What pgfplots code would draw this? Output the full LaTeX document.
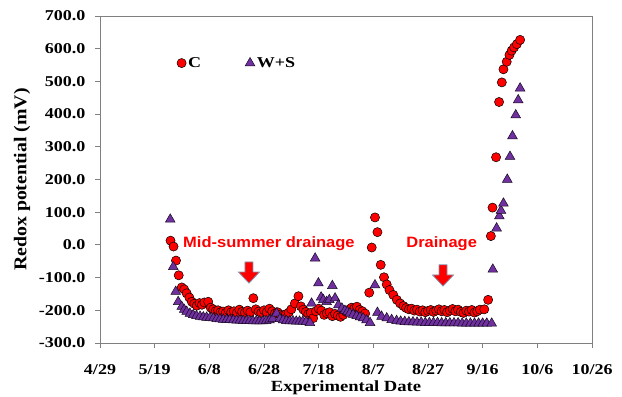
\documentclass[border=0pt]{standalone}
\usepackage{pgfplots}
\pgfplotsset{compat=1.18}
\usepackage{fontspec}
\setmainfont{Liberation Serif}[FakeStretch=1.2]
\newfontfamily\annotfont{Liberation Sans}[FakeStretch=1.1]
\newfontfamily\ylabfont{Liberation Serif}[FakeStretch=1.1]
\definecolor{cred}{HTML}{FF0000}
\definecolor{cpurple}{HTML}{7030A0}
\definecolor{arrowedge}{HTML}{8497B0}
\definecolor{axgray}{HTML}{808080}

\pgfplotstableread{
x y
25.8 13
26.9 -5
27.8 -48
28.8 -93
29.9 -130
30.8 -136
31.7 -148
32.7 -161
33.6 -174
34.5 -180
35.4 -186
36.4 -178
37.3 -183
38.2 -176
39.6 -174
40.5 -192
41.4 -197
42.3 -203
43.2 -200
44.1 -206
45 -204
46 -208
47 -200
48 -206
49 -203
50 -209
51 -198
52 -205
53 -207
54 -201
55 -206
56.1 -163
57 -197
58 -204
59 -208
60 -200
61 -206
62 -195
63 -203
64 -210
65 -206
66 -213
67 -216
68 -212
69 -207
70 -197
71.3 -179
72.6 -157
73.5 -188
74.4 -198
75.3 -205
76.2 -212
77.1 -208
78 -224
79 -203
80 -195
81 -201
82 -214
83 -209
84 -206
85 -218
86 -211
87 -216
88 -220
89 -214
90 -204
91 -198
92 -192
93 -195
94 -189
95 -199
96 -203
97 -210
98.5 -146
99.4 -8
100.6 84
101.5 39
102.7 -61
103.9 -99
104.9 -121
105.9 -138
107.3 -153
108.6 -168
109.8 -179
111 -187
112 -193
113 -197
114 -195
115 -201
116 -198
117 -204
118 -200
119 -206
120 -202
121 -199
122 -205
123 -201
124 -197
125 -203
126 -199
127 -206
128 -201
129 -196
130 -203
131 -198
132 -205
133 -208
134 -201
135 -204
136 -199
137 -207
138 -203
139 -198
140.6 -197
142 -168
143 27
143.6 114
144.9 268
146 437
147 497
147.6 537
148.8 560
149.8 581
150.6 594
151.5 604
152.5 614
153.7 627
}\dataC

\pgfplotstableread{
x y
25.7 78
26.8 -67
27.7 -143
28.6 -174
29.9 -189
30.8 -198
31.7 -204
32.9 -210
34.1 -214
35.3 -217
36.6 -219
37.8 -221
39 -222
40.2 -223
41.5 -224
42.7 -226
43.9 -227
45.1 -228
46.3 -229
47.5 -229
48.8 -230
50 -231
51.2 -231
52.4 -232
53.6 -232
54.8 -232
56 -233
57.2 -233
58.4 -233
59.6 -233
60.8 -232
62 -230
63.2 -226
64.6 -209
65.8 -226
67 -230
68.2 -232
69.4 -233
70.6 -233
71.8 -234
73 -234
74.2 -234
75.4 -235
76.8 -238
77.4 -179
78.7 -41
79.9 -117
80.9 -160
81.7 -168
82.9 -174
83.9 -168
85 -125
86 -163
87.2 -184
88.5 -194
89.6 -201
90.5 -205
91.4 -209
92.6 -213
93.9 -217
95.1 -221
96.3 -224
97.5 -230
98.8 -238
100.6 -123
101.5 -207
103 -219
104.9 -224
106.7 -229
108.5 -232
110 -234
111.5 -235
113 -236
114.5 -236
116 -237
117.5 -237
119 -238
120.5 -238
122 -238
123.5 -238
125 -239
126.5 -239
128 -239
129.5 -239
131 -239
132.5 -240
134 -240
135.5 -240
137 -240
138.5 -240
140 -240
141.5 -240
143.3 -240
143.7 -75
145.1 51
146.1 88
146.7 105
147.6 127
149 200
150 270
150.9 333
152.1 397
153 443
153.7 479
}\dataWS

\begin{document}
\begin{tikzpicture}
\begin{axis}[name=ax, scale only axis, width=492pt, height=327pt,
  xmin=0, xmax=180, ymin=-300, ymax=700,
  xtick={0,20,...,180},
  xticklabels={4/29,5/19,6/8,6/28,7/18,8/7,8/27,9/16,10/6,10/26},
  ytick={-300,-200,...,700},
  axis line style={axgray, line width=0.9pt},
  tick style={axgray, line width=0.9pt},
  tick align=outside, major tick length=5pt,
  xtick pos=bottom, ytick pos=left,
  /pgf/number format/.cd, fixed, fixed zerofill, precision=1, assume math mode=true,
  /pgfplots/.cd,
  tick label style={font=\bfseries\fontsize{15}{16}\selectfont, black},
  xticklabel style={yshift=-13pt},
  yticklabel style={xshift=-6pt},
  xlabel={Experimental Date},
  ylabel={Redox potential (mV)},
  xlabel style={font=\bfseries\fontsize{15.5}{17}\selectfont, yshift=1pt},
  ylabel style={font=\ylabfont\bfseries\fontsize{18}{19}\selectfont, yshift=2pt},
  legend style={at={(0.15,0.856)}, anchor=west, draw=none, fill=none,
    font=\bfseries\fontsize{15}{17}\selectfont, legend columns=2,
    /tikz/every even column/.append style={column sep=42pt}},
  legend cell align=left,
  clip=false,
]
\addplot[only marks, mark=*, mark size=4.6pt, mark options={fill=cred, draw=black, line width=0.5pt}] table[x=x,y=y] {\dataC};
\addlegendentry{C}
\addplot[only marks, mark=triangle*, mark size=5.6pt, mark options={fill=cpurple, draw=black!80!cpurple, line width=0.5pt}] table[x=x,y=y] {\dataWS};
\addlegendentry{W+S}

\node[font=\annotfont\bfseries\fontsize{15}{17}\selectfont, text=cred] at (axis cs:61.8,3) {Mid-summer drainage};
\node[font=\annotfont\bfseries\fontsize{15}{17}\selectfont, text=cred] at (axis cs:125,3) {Drainage};

\draw[fill=cred, draw=arrowedge, line width=0.8pt, line join=miter]
  ([xshift=-4pt]axis cs:54.5,-52) -- ([xshift=4pt]axis cs:54.5,-52) -- ([xshift=4pt]axis cs:54.5,-83)
  -- ([xshift=10.5pt]axis cs:54.5,-83) -- (axis cs:54.5,-117) -- ([xshift=-10.5pt]axis cs:54.5,-83)
  -- ([xshift=-4pt]axis cs:54.5,-83) -- cycle;
\draw[fill=cred, draw=arrowedge, line width=0.8pt, line join=miter]
  ([xshift=-4pt]axis cs:125.5,-61) -- ([xshift=4pt]axis cs:125.5,-61) -- ([xshift=4pt]axis cs:125.5,-92)
  -- ([xshift=10.5pt]axis cs:125.5,-92) -- (axis cs:125.5,-126) -- ([xshift=-10.5pt]axis cs:125.5,-92)
  -- ([xshift=-4pt]axis cs:125.5,-92) -- cycle;
\end{axis}
\pgfresetboundingbox
\path ([shift={(-100pt,-54pt)}]ax.south west) rectangle ([shift={(30pt,16pt)}]ax.north east);
\end{tikzpicture}
\end{document}
